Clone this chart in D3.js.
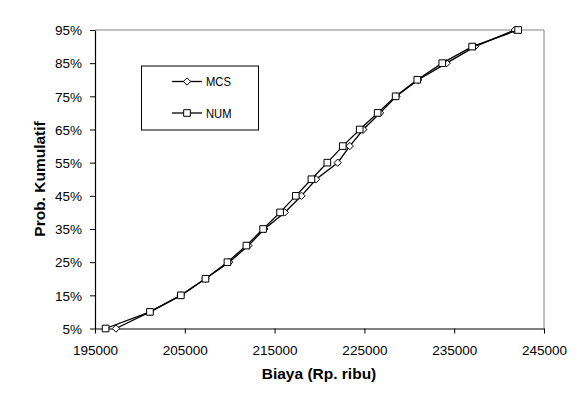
<!DOCTYPE html>
<html>
<head>
<meta charset="utf-8">
<script src="https://cdn.jsdelivr.net/npm/d3@7"></script>
<style>
  body { margin: 0; background: #fff; }
  svg { font-family: "Liberation Sans", Arial, sans-serif; }
</style>
</head>
<body>
<svg id="chart" width="585" height="406"></svg>
<script>
// Data
var probs = [0.05, 0.10, 0.15, 0.20, 0.25, 0.30, 0.35, 0.40, 0.45, 0.50,
             0.55, 0.60, 0.65, 0.70, 0.75, 0.80, 0.85, 0.90, 0.95]
var mcsCost = [197340, 201120, 204560, 207300, 209940, 212090, 213870, 216130, 217990, 219620,
               222030, 223370, 224880, 226740, 228560, 231000, 234160, 237300, 241750]
var numCost = [196180, 201120, 204560, 207300, 209750, 211860, 213720, 215610, 217360, 219100,
               220870, 222590, 224480, 226480, 228480, 230890, 233670, 237000, 242120]
var xTicks = [195000, 205000, 215000, 225000, 235000, 245000]
var yTicks = [0.05, 0.15, 0.25, 0.35, 0.45, 0.55, 0.65, 0.75, 0.85, 0.95]
var seriesNames = ['MCS', 'NUM']

// Layout (plotTop etc. - window.top is reserved)
var plotLeft = 95, plotRight = 544, plotTop = 30, plotBottom = 328.5

var svg = d3.select('#chart')

var x = d3.scaleLinear().domain([195000, 245000]).range([plotLeft, plotRight])
var y = d3.scaleLinear().domain([0.05, 0.95]).range([plotBottom, plotTop])

// plot frame (gray top/right)
svg.append('path')
  .attr('d', 'M' + plotLeft + ',' + plotTop + 'H' + plotRight + 'V' + plotBottom)
  .attr('fill', 'none')
  .attr('stroke', '#808080')
  .attr('stroke-width', 1)

// axes
var xAxis = svg.append('g')
  .attr('transform', 'translate(0,' + plotBottom + ')')
  .call(d3.axisBottom(x).tickValues(xTicks).tickSizeInner(5).tickSizeOuter(0).tickFormat(d3.format('d')))
var yAxis = svg.append('g')
  .attr('transform', 'translate(' + plotLeft + ',0)')
  .call(d3.axisLeft(y).tickValues(yTicks).tickSizeInner(5).tickSizeOuter(0).tickFormat(d3.format('.0%')))

;[xAxis, yAxis].forEach(function(a) {
  a.select('.domain').attr('stroke', '#000').attr('stroke-width', 1.2)
  a.selectAll('.tick line').attr('stroke', '#000')
  a.selectAll('.tick text')
    .attr('fill', '#000')
    .style('font-size', '13.5px')
    .style('font-family', '"Liberation Sans", Arial, sans-serif')
})
xAxis.selectAll('.tick text').attr('dy', '0').attr('y', 26)
yAxis.selectAll('.tick text').attr('x', -13).attr('dy', '0.35em')

// axis titles
svg.append('text')
  .attr('x', 319).attr('y', 379)
  .attr('text-anchor', 'middle')
  .style('font-size', '15.5px').style('font-weight', 'bold')
  .text('Biaya (Rp. ribu)')
svg.append('text')
  .attr('transform', 'translate(45,179) rotate(-90)')
  .attr('text-anchor', 'middle')
  .style('font-size', '15.5px').style('font-weight', 'bold')
  .text('Prob. Kumulatif')

// lines and markers
var line = d3.line()
  .x(function(d) { return x(d[0]) })
  .y(function(d) { return y(d[1]) })

var diamond = d3.symbol().type(d3.symbolDiamond2).size(34)
var square = d3.symbol().type(d3.symbolSquare).size(44)

function drawSeries(costs, sym) {
  var pts = costs.map(function(c, i) { return [c, probs[i]] })
  svg.append('path')
    .datum(pts)
    .attr('d', line)
    .attr('fill', 'none')
    .attr('stroke', '#000')
    .attr('stroke-width', 1.3)
  svg.append('g').selectAll('path')
    .data(pts)
    .join('path')
    .attr('transform', function(d) { return 'translate(' + x(d[0]) + ',' + y(d[1]) + ')' })
    .attr('d', sym)
    .attr('fill', '#fff')
    .attr('stroke', '#000')
    .attr('stroke-width', 1)
}
drawSeries(mcsCost, diamond)
drawSeries(numCost, square)

// legend
var legend = svg.append('g')
legend.append('rect')
  .attr('x', 141.5).attr('y', 66)
  .attr('width', 117).attr('height', 64)
  .attr('fill', '#fff')
  .attr('stroke', '#000')
  .attr('stroke-width', 1)
var legendY = [81.5, 113]
var legendSym = [diamond, square]
seriesNames.forEach(function(name, i) {
  legend.append('line')
    .attr('x1', 172).attr('x2', 202)
    .attr('y1', legendY[i]).attr('y2', legendY[i])
    .attr('stroke', '#000').attr('stroke-width', 1.3)
  legend.append('path')
    .attr('transform', 'translate(187,' + legendY[i] + ')')
    .attr('d', legendSym[i])
    .attr('fill', '#fff').attr('stroke', '#000')
  legend.append('text')
    .attr('x', 206).attr('y', legendY[i])
    .attr('dy', '0.36em')
    .attr('textLength', i === 0 ? 25 : 25.5)
    .attr('lengthAdjust', 'spacingAndGlyphs')
    .style('font-size', '13px')
    .text(name)
})
</script>
</body>
</html>
